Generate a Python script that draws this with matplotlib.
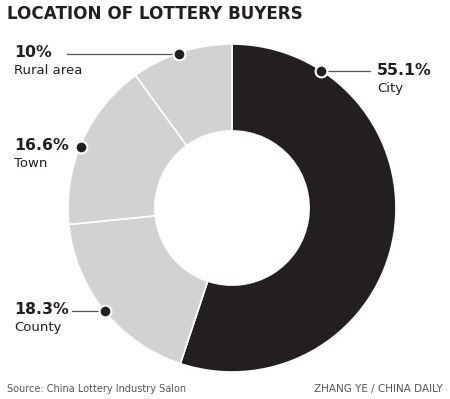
import numpy as np
import matplotlib
matplotlib.use("Agg")
import matplotlib.pyplot as plt

categories = ["City", "County", "Town", "Rural area"]
values = [55.1, 18.3, 16.6, 10.0]
pct_labels = ["55.1%", "18.3%", "16.6%", "10%"]
title = "LOCATION OF LOTTERY BUYERS"
source = "Source: China Lottery Industry Salon"
credit = "ZHANG YE / CHINA DAILY"

W, H = 450, 399
fig = plt.figure(figsize=(W / 100, H / 100), dpi=100)
ax = fig.add_axes([0, 0, 1, 1])

cx, cy, R = 232, H - 208, 164
dark = "#231f20"
light = "#d1d2d4"
colors = [dark, light, light, light]

wedges, _ = ax.pie(values, colors=colors, startangle=90, counterclock=False,
                   center=(cx, cy), radius=R, frame=True,
                   wedgeprops=dict(width=R * 0.53, edgecolor="white", linewidth=1.2))
ax.set_xlim(0, W)
ax.set_ylim(0, H)
ax.set_aspect("equal")
ax.axis("off")

# (dot angle clockwise from top in deg, line end x, text x)
label_cfg = [
    (33, 370, 377),
    (231, 72, 14),
    (292, None, 14),
    (341, 67, 14),
]
rd = 163
for (ang, lx, tx), pct, cat in zip(label_cfg, pct_labels, categories):
    a = np.deg2rad(ang)
    dx = cx + rd * np.sin(a)
    dy = cy + rd * np.cos(a)
    if lx is not None:
        ax.plot([lx, dx], [dy, dy], color="#555555", lw=0.9, zorder=3)
    ax.plot([dx], [dy], "o", ms=8.5, mfc=dark, mec="white", mew=1.5, zorder=4)
    ax.text(tx, dy + 1, pct, fontsize=11.3, fontweight="bold", color=dark,
            ha="left", va="center", family="DejaVu Sans")
    ax.text(tx, dy - 17, cat, fontsize=9.5, color=dark, ha="left", va="center",
            family="DejaVu Sans")

ax.text(7, H - 14, title, fontsize=12.1, fontweight="heavy", color=dark,
        ha="left", va="center", family="DejaVu Sans")
ax.text(7, H - 389, source, fontsize=7.0, color="#555555", ha="left", va="center")
ax.text(443, H - 389, credit, fontsize=7.5, color="#555555", ha="right", va="center")

fig.savefig("out.png", dpi=100)
